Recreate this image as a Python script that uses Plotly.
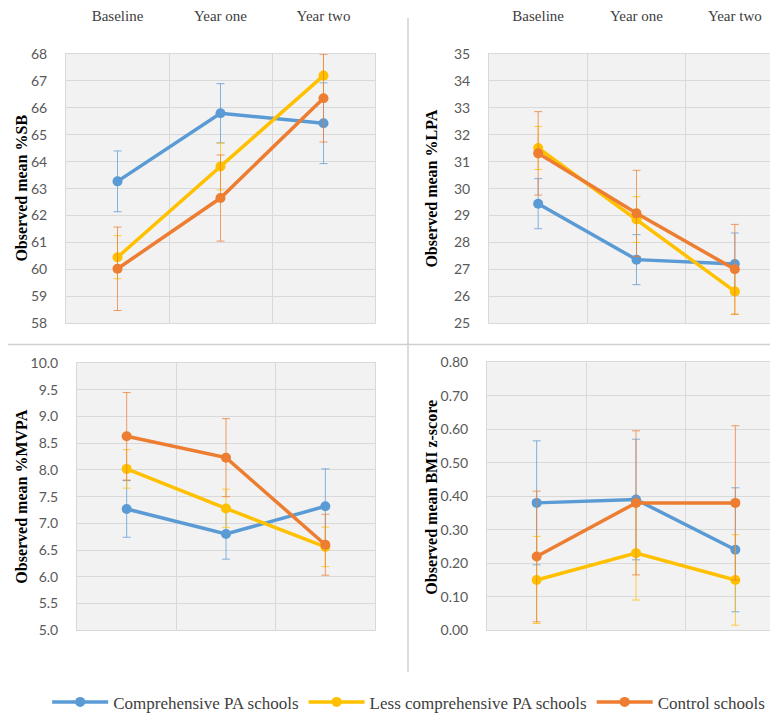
import plotly.graph_objects as go
from plotly.subplots import make_subplots

time_points = ["Baseline", "Year one", "Year two"]
series_names = ["Comprehensive PA schools", "Less comprehensive PA schools", "Control schools"]
series_colors = ["#5B9BD5", "#FFC000", "#ED7D31"]
error_colors = ["rgba(91,155,213,0.75)", "rgba(255,192,0,0.75)", "rgba(237,125,49,0.75)"]

# %SB
sb_means = [[63.27, 65.80, 65.43], [60.45, 63.82, 67.20], [60.02, 62.65, 66.36]]
sb_err = [[1.13, 1.10, 1.50], [0.80, 0.87, 0.90], [1.55, 1.60, 1.63]]
# %LPA
lpa_means = [[29.44, 27.36, 27.20], [31.51, 28.85, 26.18], [31.31, 29.08, 27.00]]
lpa_err = [[0.93, 0.93, 1.15], [0.80, 0.85, 0.85], [1.55, 1.60, 1.67]]
# %MVPA
mvpa_means = [[7.27, 6.80, 7.32], [8.02, 7.28, 6.56], [8.63, 8.23, 6.60]]
mvpa_err = [[0.53, 0.47, 0.70], [0.36, 0.36, 0.37], [0.82, 0.73, 0.57]]
# BMI z-score
bmi_means = [[0.38, 0.39, 0.24], [0.15, 0.23, 0.15], [0.22, 0.38, 0.38]]
bmi_err = [[0.185, 0.18, 0.185], [0.13, 0.14, 0.135], [0.195, 0.215, 0.23]]

panels = [
    (1, 1, sb_means, sb_err, "Observed mean %SB", [58, 68], 1, "d"),
    (1, 2, lpa_means, lpa_err, "Observed mean %LPA", [25, 35], 1, "d"),
    (2, 1, mvpa_means, mvpa_err, "Observed mean %MVPA", [5, 10], 0.5, ".1f"),
    (2, 2, bmi_means, bmi_err, "Observed mean BMI z-score", [0, 0.8], 0.1, ".2f"),
]

fig = make_subplots(rows=2, cols=2)

for (r, c, means, errs, title, yr, dt, fmt) in panels:
    for i in range(3):
        fig.add_trace(go.Scatter(
            x=time_points, y=means[i], name=series_names[i],
            mode="lines+markers",
            line=dict(color=series_colors[i], width=3.5),
            marker=dict(color=series_colors[i], size=10),
            error_y=dict(type="data", array=errs[i], visible=True,
                         color=error_colors[i], thickness=1, width=4),
            showlegend=(r == 1 and c == 1),
            legendgroup=series_names[i],
        ), row=r, col=c)

# domains (paper coords)
doms = {
    (1, 1): ([58/778, 367/778], [1-313/716, 1-37/716]),
    (1, 2): ([481/778, 776/778], [1-313/716, 1-37/716]),
    (2, 1): ([69/778, 367/778], [1-628/716, 1-354/716]),
    (2, 2): ([479/778, 777/778], [1-628/716, 1-353/716]),
}

grid = "#D9D9D9"
tickfont = dict(family="Lato, 'Open Sans', sans-serif", size=14, color="#595959")
catfont = dict(family="'Liberation Serif', serif", size=15, color="#404040")

for (r, c, means, errs, title, yr, dt, fmt) in panels:
    xd, yd = doms[(r, c)]
    fig.update_xaxes(domain=xd, type="category", range=[-0.5, 2.5],
                     tickson="boundaries", showgrid=True, gridcolor=grid, gridwidth=1,
                     showline=True, linecolor=grid, mirror=True, ticks="",
                     side="top", showticklabels=(r == 1), tickfont=catfont,
                     ticklabelstandoff=26, zeroline=False, row=r, col=c)
    fig.update_yaxes(domain=yd, range=yr, dtick=dt, tick0=yr[0], tickformat=fmt,
                     showgrid=True, gridcolor=grid, gridwidth=1,
                     showline=True, linecolor=grid, mirror=True, ticks="",
                     tickfont=tickfont, ticklabelstandoff=15, zeroline=False,
                     row=r, col=c)

# y-axis titles as annotations
title_pos = [(14, 175, "Observed mean %SB"), (424, 175, "Observed mean %LPA"),
             (14, 491, "Observed mean %MVPA"), (424, 491, "Observed mean BMI z-score")]
for (px, py, t) in title_pos:
    fig.add_annotation(x=px/778, y=1-py/716, xref="paper", yref="paper",
                       text="<b>" + t + "</b>", textangle=-90, showarrow=False,
                       font=dict(family="'Liberation Serif', serif", size=16, color="#000000"),
                       xanchor="center", yanchor="middle")

# divider lines
fig.add_shape(type="line", xref="paper", yref="paper", x0=400/778, x1=400/778,
              y0=1-671/716, y1=1, line=dict(color="#D0D0D0", width=1.5))
fig.add_shape(type="line", xref="paper", yref="paper", x0=0, x1=1,
              y0=1-335/716, y1=1-335/716, line=dict(color="#D0D0D0", width=1.5))

fig.update_layout(
    width=778, height=716,
    margin=dict(l=0, r=0, t=0, b=0),
    paper_bgcolor="white", plot_bgcolor="#F2F2F2",
    legend=dict(orientation="h", x=0.515, xanchor="center", y=1-702/716, yanchor="middle",
                font=dict(family="'Liberation Serif', serif", size=17, color="#404040"),
                itemwidth=56, bgcolor="rgba(0,0,0,0)"),
)

fig.write_html("out.html")
